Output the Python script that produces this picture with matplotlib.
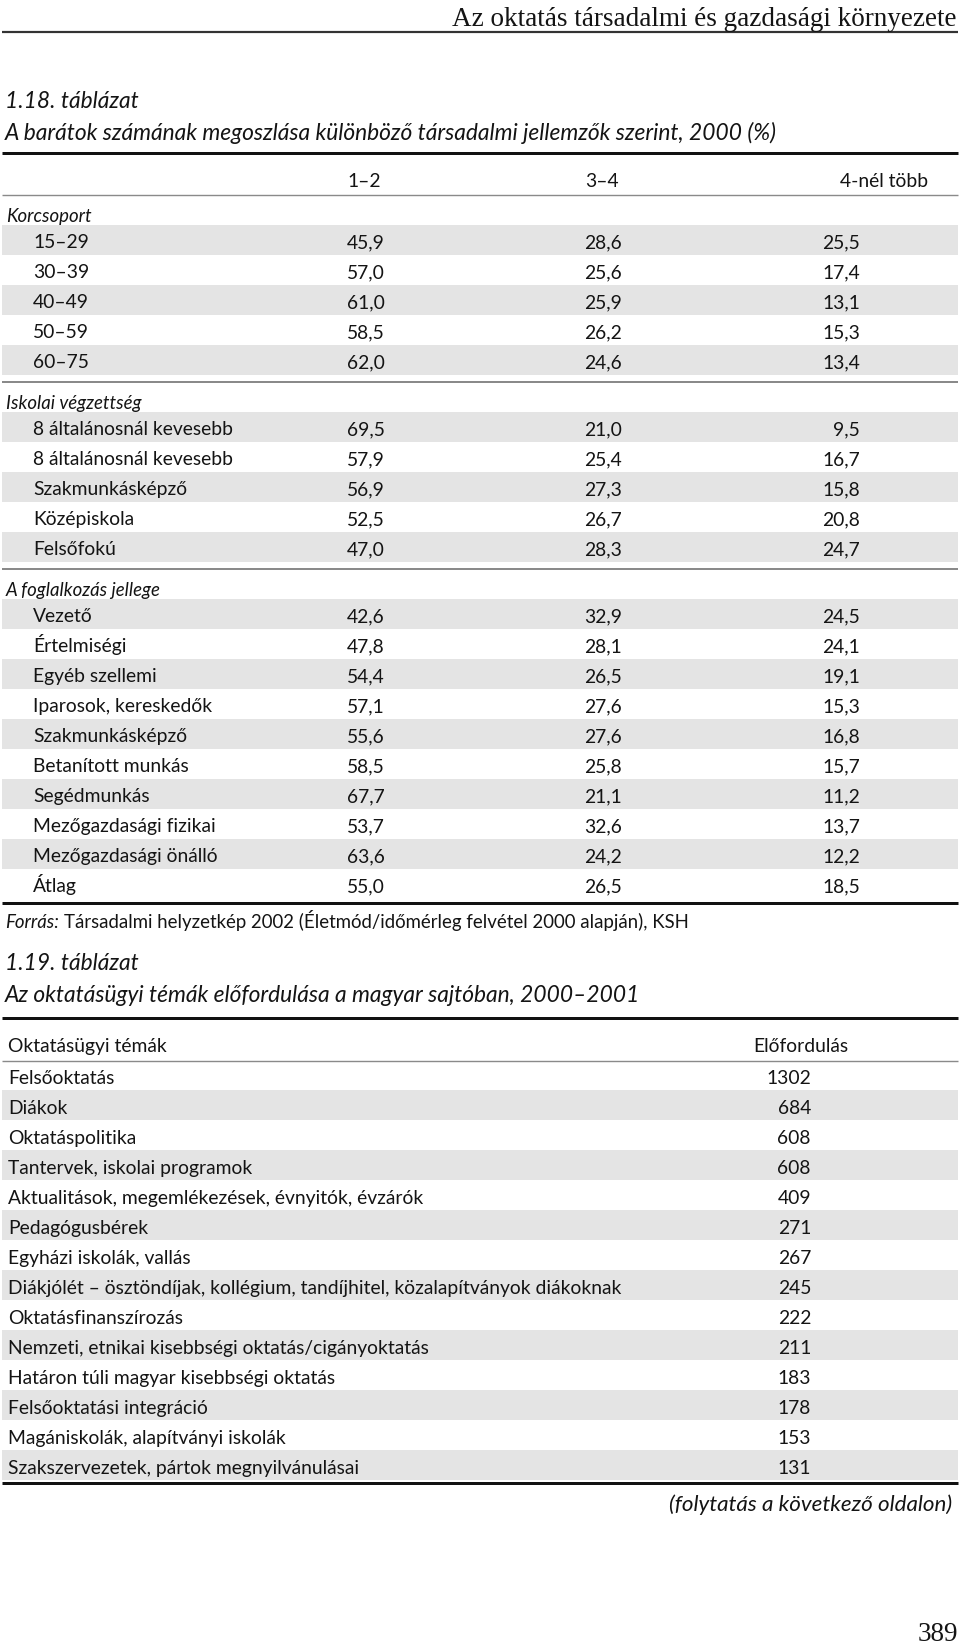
import matplotlib
matplotlib.use("Agg")
import matplotlib.pyplot as plt
from matplotlib.patches import Rectangle

# ---------------- data ----------------
page_header = "Az oktatás társadalmi és gazdasági környezete"
t1_number = "1.18. táblázat"
t1_title = "A barátok számának megoszlása különböző társadalmi jellemzők szerint, 2000 (%)"
t1_columns = ["1–2", "3–4", "4-nél több"]

age_title = "Korcsoport"
age_labels = ["15–29", "30–39", "40–49", "50–59", "60–75"]
age_12 = [45.9, 57.0, 61.0, 58.5, 62.0]
age_34 = [28.6, 25.6, 25.9, 26.2, 24.6]
age_4p = [25.5, 17.4, 13.1, 15.3, 13.4]

edu_title = "Iskolai végzettség"
edu_labels = ["8 általánosnál kevesebb", "8 általánosnál kevesebb", "Szakmunkásképző",
              "Középiskola", "Felsőfokú"]
edu_12 = [69.5, 57.9, 56.9, 52.5, 47.0]
edu_34 = [21.0, 25.4, 27.3, 26.7, 28.3]
edu_4p = [9.5, 16.7, 15.8, 20.8, 24.7]

occ_title = "A foglalkozás jellege"
occ_labels = ["Vezető", "Értelmiségi", "Egyéb szellemi", "Iparosok, kereskedők",
              "Szakmunkásképző", "Betanított munkás", "Segédmunkás",
              "Mezőgazdasági fizikai", "Mezőgazdasági önálló", "Átlag"]
occ_12 = [42.6, 47.8, 54.4, 57.1, 55.6, 58.5, 67.7, 53.7, 63.6, 55.0]
occ_34 = [32.9, 28.1, 26.5, 27.6, 27.6, 25.8, 21.1, 32.6, 24.2, 26.5]
occ_4p = [24.5, 24.1, 19.1, 15.3, 16.8, 15.7, 11.2, 13.7, 12.2, 18.5]

source_label = "Forrás:"
source_text = "Társadalmi helyzetkép 2002 (Életmód/időmérleg felvétel 2000 alapján), KSH"

t2_number = "1.19. táblázat"
t2_title = "Az oktatásügyi témák előfordulása a magyar sajtóban, 2000–2001"
t2_columns = ["Oktatásügyi témák", "Előfordulás"]
topics = ["Felsőoktatás", "Diákok", "Oktatáspolitika", "Tantervek, iskolai programok",
          "Aktualitások, megemlékezések, évnyitók, évzárók", "Pedagógusbérek",
          "Egyházi iskolák, vallás",
          "Diákjólét – ösztöndíjak, kollégium, tandíjhitel, közalapítványok diákoknak",
          "Oktatásfinanszírozás", "Nemzeti, etnikai kisebbségi oktatás/cigányoktatás",
          "Határon túli magyar kisebbségi oktatás", "Felsőoktatási integráció",
          "Magániskolák, alapítványi iskolák", "Szakszervezetek, pártok megnyilvánulásai"]
topic_counts = [1302, 684, 608, 608, 409, 271, 267, 245, 222, 211, 183, 178, 153, 131]

continued = "(folytatás a következő oldalon)"
page_number = "389"

# ---------------- layout ----------------
W, H = 960, 1646
DPI = 100
fig = plt.figure(figsize=(W / DPI, H / DPI), dpi=DPI)
ax = fig.add_axes([0, 0, 1, 1])
ax.set_xlim(0, W)
ax.set_ylim(H, 0)
ax.axis("off")
renderer = fig.canvas.get_renderer()

SANS = "Lato"
SERIF = "Liberation Serif"
TXT = "#141414"
SHADE = "#e4e4e4"
X0, X1 = 2, 958


def width_px(s, size, **kw):
    t = ax.text(0, 0, s, fontsize=size, **kw)
    w = t.get_window_extent(renderer).width
    t.remove()
    return w


def fit(s, target, **kw):
    return 12 * target / width_px(s, 12, **kw)


def txt(x, yc, s, size, ha="left", family=SANS, style="normal", color=TXT):
    # yc is the visual centre of capitals
    base = yc + 0.36 * size * DPI / 72
    return ax.text(x, base, s, fontsize=size, ha=ha, va="baseline",
                   family=family, style=style, color=color)


def hline(y, px, color):
    ax.plot([X0, X1], [y, y], color=color, lw=px * 72 / DPI,
            solid_capstyle="butt")


def shade(top, h=30):
    ax.add_patch(Rectangle((X0, top), X1 - X0, h, facecolor=SHADE,
                           edgecolor="none", zorder=0))


def fmt(v):
    return f"{v:.1f}".replace(".", ",")


body = fit(topics[7], 610, family=SANS)
title_fs = fit(t1_title, 768, family=SANS, style="italic")
header_fs = fit(page_header, 503, family=SERIF)
sect_fs = body * 0.97

# page header
txt(957, 16, page_header, header_fs, ha="right", family=SERIF)
hline(31.5, 2.2, "#333333")

# table 1 titles
txt(5, 100, t1_number, title_fs, style="italic")
txt(5, 132, t1_title, title_fs, style="italic")
hline(153, 3, "#111111")

col_centres = [364, 602, 884]
for c, lab in zip(col_centres, t1_columns):
    txt(c, 180, lab, body, ha="center")

val_right = [385, 622, 860]
LBL_X = 33

sections = [
    (age_title, age_labels, age_12, age_34, age_4p),
    (edu_title, edu_labels, edu_12, edu_34, edu_4p),
    (occ_title, occ_labels, occ_12, occ_34, occ_4p),
]
line_y = 195
hline(line_y, 1.4, "#8a8a8a")
for si, (title, labels, a, b, c) in enumerate(sections):
    txt(6, line_y + 20, title, sect_fs, style="italic")
    top = line_y + 30
    for i, lab in enumerate(labels):
        rt = top + 30 * i
        if i % 2 == 0:
            shade(rt)
        yc = rt + 16.5
        txt(LBL_X, yc, lab, body)
        for xr, v in zip(val_right, (a[i], b[i], c[i])):
            txt(xr, yc, fmt(v), body, ha="right")
    end = top + 30 * len(labels)
    if si < len(sections) - 1:
        line_y = end + 7
        hline(line_y, 2, "#8a8a8a")
    else:
        hline(end + 4, 3, "#111111")

# source
src_fs = fit(source_label + " " + source_text, 683, family=SANS)
t = txt(5, 921, source_label, src_fs, style="italic")
wl = t.get_window_extent(renderer).width
txt(5 + wl + 0.28 * src_fs * DPI / 72, 921, source_text, src_fs)

# table 2
txt(5, 962, t2_number, title_fs, style="italic")
txt(5, 994, t2_title, title_fs, style="italic")
hline(1018, 3, "#111111")
txt(8, 1045, t2_columns[0], body)
txt(801, 1045, t2_columns[1], body, ha="center")
hline(1060.5, 1.4, "#8a8a8a")
for i, (lab, v) in enumerate(zip(topics, topic_counts)):
    rt = 1060 + 30 * i
    if i % 2 == 1:
        shade(rt)
    yc = rt + 17
    txt(8, yc, lab, body)
    txt(811, yc, str(v), body, ha="right")
hline(1483, 3, "#111111")

cont_fs = fit(continued, 282, family=SANS, style="italic")
txt(952, 1503, continued, cont_fs, ha="right", style="italic")
txt(958, 1631, page_number, header_fs, ha="right", family=SERIF)

fig.savefig("out.png", dpi=DPI, facecolor="white")
